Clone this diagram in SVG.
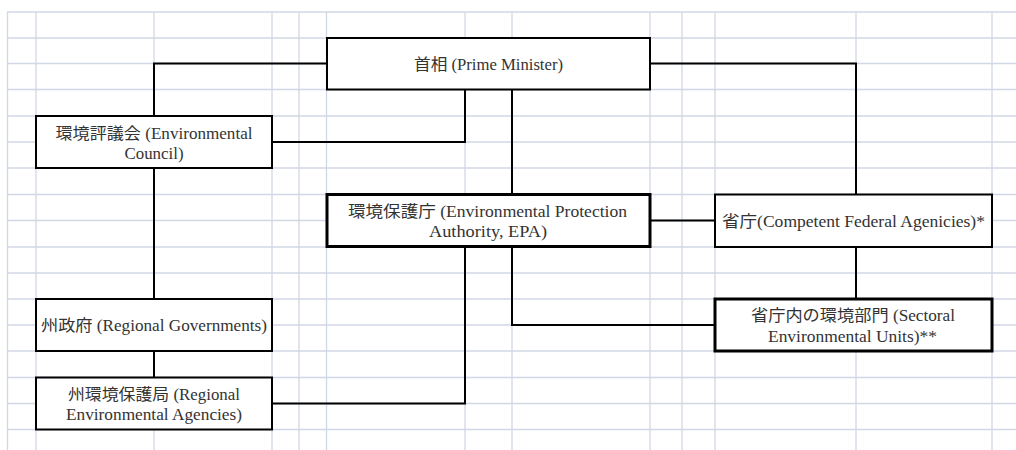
<svg xmlns="http://www.w3.org/2000/svg" width="1016" height="450" viewBox="0 0 1016 450">
<style>
.grid line{stroke:#d0d7e5;stroke-width:1.3}
.box{fill:#fff;stroke:#000;stroke-width:2}
.thick{stroke-width:3}
.conn path{fill:none;stroke:#000;stroke-width:2}
text{font-family:"Liberation Serif","Noto Sans CJK JP",serif;font-size:16px;fill:#333;text-anchor:middle}
</style>
<rect width="1016" height="450" fill="#fff"/>
<g class="grid">
<line x1="7.5" y1="12" x2="7.5" y2="450"/>
<line x1="36" y1="12" x2="36" y2="450"/>
<line x1="154" y1="12" x2="154" y2="450"/>
<line x1="272" y1="12" x2="272" y2="450"/>
<line x1="299" y1="12" x2="299" y2="450"/>
<line x1="326.5" y1="12" x2="326.5" y2="450"/>
<line x1="465" y1="12" x2="465" y2="450"/>
<line x1="512" y1="12" x2="512" y2="450"/>
<line x1="650" y1="12" x2="650" y2="450"/>
<line x1="682" y1="12" x2="682" y2="450"/>
<line x1="715" y1="12" x2="715" y2="450"/>
<line x1="856" y1="12" x2="856" y2="450"/>
<line x1="992" y1="12" x2="992" y2="450"/>
<line x1="7" y1="12" x2="1016" y2="12"/>
<line x1="7" y1="38" x2="1016" y2="38"/>
<line x1="7" y1="63.5" x2="1016" y2="63.5"/>
<line x1="7" y1="89.5" x2="1016" y2="89.5"/>
<line x1="7" y1="116" x2="1016" y2="116"/>
<line x1="7" y1="142" x2="1016" y2="142"/>
<line x1="7" y1="168" x2="1016" y2="168"/>
<line x1="7" y1="194.5" x2="1016" y2="194.5"/>
<line x1="7" y1="220.5" x2="1016" y2="220.5"/>
<line x1="7" y1="247" x2="1016" y2="247"/>
<line x1="7" y1="273" x2="1016" y2="273"/>
<line x1="7" y1="299" x2="1016" y2="299"/>
<line x1="7" y1="325" x2="1016" y2="325"/>
<line x1="7" y1="351" x2="1016" y2="351"/>
<line x1="7" y1="377.5" x2="1016" y2="377.5"/>
<line x1="7" y1="403.5" x2="1016" y2="403.5"/>
<line x1="7" y1="429.5" x2="1016" y2="429.5"/>
</g>
<g class="conn">
<path d="M327,63.5 H154 V116"/>
<path d="M465,89.5 V142 H272"/>
<path d="M512,89.5 V194.5"/>
<path d="M650,63.5 H856 V194.5"/>
<path d="M154,168 V299"/>
<path d="M154,351 V377.5"/>
<path d="M272,403.5 H465 V246.5"/>
<path d="M512,246.5 V325 H715"/>
<path d="M650,220.5 H715"/>
<path d="M856,247 V299"/>
</g>
<g id="pm">
<rect class="box" x="327" y="38" width="323" height="51.5"/>
<text x="488.5" y="70" textLength="149" lengthAdjust="spacingAndGlyphs">首相 (Prime Minister)</text>
</g>
<g id="council">
<rect class="box" x="36" y="116" width="236" height="52"/>
<text x="154" y="139" textLength="197" lengthAdjust="spacingAndGlyphs">環境評議会 (Environmental</text>
<text x="154" y="159" textLength="59" lengthAdjust="spacingAndGlyphs">Council)</text>
</g>
<g id="epa">
<rect class="box thick" x="327" y="194.5" width="323" height="52"/>
<text x="487.5" y="217" textLength="279" lengthAdjust="spacingAndGlyphs">環境保護庁 (Environmental Protection</text>
<text x="488" y="237" textLength="118" lengthAdjust="spacingAndGlyphs">Authority, EPA)</text>
</g>
<g id="agencies">
<rect class="box" x="715" y="194.5" width="277" height="52.5"/>
<text x="853.5" y="226.5" textLength="263" lengthAdjust="spacingAndGlyphs">省庁(Competent Federal Agenicies)*</text>
</g>
<g id="sectoral">
<rect class="box thick" x="715" y="299" width="277" height="52"/>
<text x="853" y="321" textLength="204" lengthAdjust="spacingAndGlyphs">省庁内の環境部門 (Sectoral</text>
<text x="852.5" y="342" textLength="169" lengthAdjust="spacingAndGlyphs">Environmental Units)**</text>
</g>
<g id="regional-gov">
<rect class="box" x="36" y="299" width="236" height="52"/>
<text x="154" y="331" textLength="226" lengthAdjust="spacingAndGlyphs">州政府 (Regional Governments)</text>
</g>
<g id="regional-agencies">
<rect class="box" x="36" y="377.5" width="236" height="52"/>
<text x="154" y="400" textLength="172" lengthAdjust="spacingAndGlyphs">州環境保護局 (Regional</text>
<text x="154" y="420" textLength="176" lengthAdjust="spacingAndGlyphs">Environmental Agencies)</text>
</g>
</svg>
